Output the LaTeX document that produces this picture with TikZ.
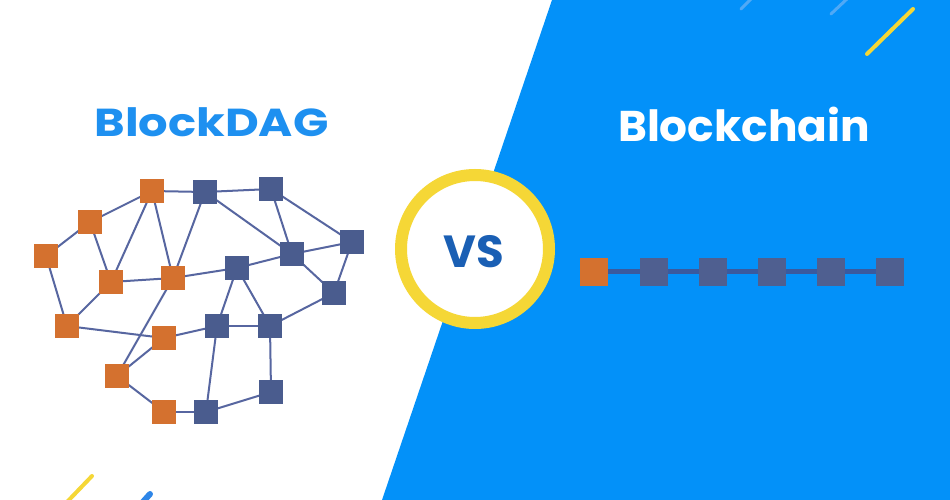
\documentclass[tikz,border=0pt]{standalone}
\usepackage{fontspec}
\setmainfont{Poppins}
\definecolor{bgblue}{HTML}{0391F9}
\definecolor{dagorange}{HTML}{D4712F}
\definecolor{dagnavy}{HTML}{4A5C8E}
\definecolor{edgecol}{HTML}{5766A0}
\definecolor{titleblue}{HTML}{1E90F0}
\definecolor{vsblue}{HTML}{1A5FB4}
\definecolor{ringyellow}{HTML}{F5D736}
\definecolor{chainline}{HTML}{3A5A9E}
\definecolor{chainnavy}{HTML}{4F5F90}
\definecolor{faintblue}{HTML}{4FA9F6}
\definecolor{streakblue}{HTML}{2E86E8}
\pgfdeclarelayer{bglayer}
\pgfdeclarelayer{edgelayer}
\pgfsetlayers{bglayer,edgelayer,main}
\tikzset{
  osq/.style={rectangle,fill=dagorange,minimum size=24pt,inner sep=0pt},
  bsq/.style={rectangle,fill=dagnavy,minimum size=24pt,inner sep=0pt},
  cosq/.style={rectangle,fill=dagorange,minimum size=28pt,inner sep=0pt},
  cbsq/.style={rectangle,fill=chainnavy,minimum size=28pt,inner sep=0pt},
  dagedge/.style={draw=edgecol,line width=2pt},
  chainedge/.style={draw=chainline,line width=4.5pt},
  streak/.style={line cap=round}
}
\begin{document}
\begin{tikzpicture}[x=1pt,y=-1pt]
\useasboundingbox (0,0) rectangle (950,500);
\begin{pgfonlayer}{bglayer}
\fill[white] (0,0) rectangle (950,500);
\fill[bgblue] (552,0) -- (950,0) -- (950,500) -- (382,500) -- cycle;
\end{pgfonlayer}
% streaks
\coordinate (s1a) at (913,9); \coordinate (s1b) at (867,54);
\draw[streak,ringyellow,line width=4pt] (s1a) -- (s1b);
\coordinate (s2a) at (752,-2); \coordinate (s2b) at (741,9);
\draw[streak,faintblue,line width=3pt] (s2a) -- (s2b);
\coordinate (s3a) at (848,-2); \coordinate (s3b) at (831,14);
\draw[streak,faintblue,line width=3pt] (s3a) -- (s3b);
\coordinate (s4a) at (92,476); \coordinate (s4b) at (67,502);
\draw[streak,ringyellow,line width=4pt] (s4a) -- (s4b);
\coordinate (s5a) at (150,494); \coordinate (s5b) at (142,503);
\draw[streak,streakblue,line width=6pt] (s5a) -- (s5b);
% titles
\node[anchor=base,inner sep=0pt,text=titleblue,font=\bfseries\fontsize{39}{39}\selectfont] (t1) at (211.5,136.7) {\scalebox{1.19}[1]{BlockDAG}};
\node[anchor=base,inner sep=0pt,text=white,font=\bfseries\fontsize{43}{43}\selectfont] (t2) at (744,141.7) {\scalebox{1.02}[1]{Blockchain}};
% VS
\node[circle,draw=ringyellow,line width=12pt,fill=white,minimum size=148pt,inner sep=0pt] (vs) at (475,249) {};
\node[anchor=base,text=vsblue,font=\bfseries\fontsize{45}{45}\selectfont] (vst) at (474,267) {VS};
% DAG nodes
\node[osq] (o1) at (152,191) {};
\node[bsq] (b1) at (205,192) {};
\node[bsq] (b2) at (271,189) {};
\node[osq] (o2) at (90,222) {};
\node[osq] (o3) at (46,256) {};
\node[bsq] (b3) at (292,254) {};
\node[bsq] (b4) at (352,242) {};
\node[bsq] (b5) at (237,268) {};
\node[osq] (o4) at (111,282) {};
\node[osq] (o5) at (173,278) {};
\node[bsq] (b6) at (334,293) {};
\node[osq] (o6) at (67,326) {};
\node[osq] (o7) at (164,338) {};
\node[bsq] (b7) at (217,326) {};
\node[bsq] (b8) at (270,326) {};
\node[osq] (o8) at (117,376) {};
\node[bsq] (b9) at (271,392) {};
\node[osq] (o9) at (164,412) {};
\node[bsq] (b10) at (206,412) {};
\begin{pgfonlayer}{edgelayer}
\foreach \a/\b in {o1/b1,o1/o2,o2/o3,o2/o4,o1/o4,o1/o5,b1/o5,o3/o6,o4/o6,o4/o5,o5/b5,o6/o7,o7/b7,o5/o8,o7/o8,o8/o9,o9/b10,b1/b2,b1/b3,b2/b3,b2/b4,b3/b4,b5/b3,b3/b6,b4/b6,b5/b7,b5/b8,b7/b8,b8/b6,b8/b9,b9/b10,b7/b10}
  \draw[dagedge] (\a.center) -- (\b.center);
\end{pgfonlayer}
% chain
\node[cosq] (c0) at (594,271.5) {};
\node[cbsq] (c1) at (653.5,271.5) {};
\node[cbsq] (c2) at (713,271.5) {};
\node[cbsq] (c3) at (772,271.5) {};
\node[cbsq] (c4) at (831,271.5) {};
\node[cbsq] (c5) at (890,271.5) {};
\begin{pgfonlayer}{edgelayer}
\draw[chainedge] (c0.center) -- (c1.center) -- (c2.center) -- (c3.center) -- (c4.center) -- (c5.center);
\end{pgfonlayer}
\end{tikzpicture}
\end{document}
